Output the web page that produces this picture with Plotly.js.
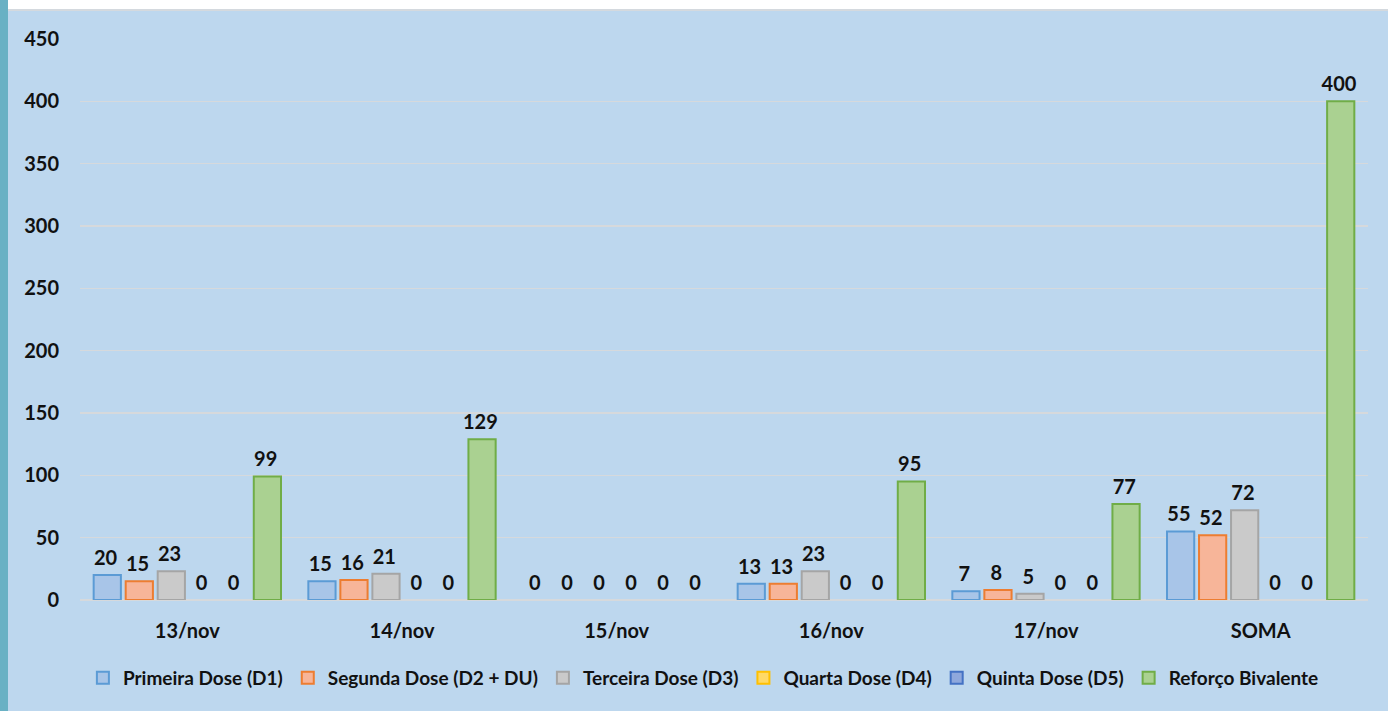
<!DOCTYPE html>
<html>
<head>
<meta charset="utf-8">
<script src="https://cdn.plot.ly/plotly-3.0.1.min.js"></script>
<style>
  html, body { margin:0; padding:0; width:1388px; height:711px; overflow:hidden; background:#BDD7EE; }
  #topstrip { position:absolute; left:0; top:0; width:1388px; height:9px; background:#ffffff; border-bottom:2px solid #d4d9de; }
  #leftstrip { position:absolute; left:0; top:0; width:8px; height:711px; background:#69B1C4; }
  #chart { position:absolute; left:0; top:0; width:1388px; height:711px; }
</style>
</head>
<body>
<div id="topstrip"></div>
<div id="leftstrip"></div>
<div id="chart"></div>
<script>
const categories = ["13/nov", "14/nov", "15/nov", "16/nov", "17/nov", "SOMA"];
const seriesNames = ["Primeira Dose (D1)", "Segunda Dose (D2 + DU)", "Terceira Dose (D3)", "Quarta Dose (D4)", "Quinta Dose (D5)", "Reforço Bivalente"];
const primeiraDose = [20, 15, 0, 13, 7, 55];
const segundaDose = [15, 16, 0, 13, 8, 52];
const terceiraDose = [23, 21, 0, 23, 5, 72];
const quartaDose = [0, 0, 0, 0, 0, 0];
const quintaDose = [0, 0, 0, 0, 0, 0];
const reforcoBivalente = [99, 129, 0, 95, 77, 400];
const yTicks = [0, 50, 100, 150, 200, 250, 300, 350, 400, 450];

const fills = ["#A8C5E8", "#F7B599", "#CACACA", "#FFD966", "#8FA8DC", "#AAD191"];
const lines = ["#5B9BD5", "#ED7D31", "#A5A5A5", "#FFC000", "#4472C4", "#70AD47"];
const values = [primeiraDose, segundaDose, terceiraDose, quartaDose, quintaDose, reforcoBivalente];

const FONT = "Lato, 'Open Sans', sans-serif";

const traces = [];
values.forEach((v, i) => {
  const allZero = v.every(n => n === 0);
  traces.push({
    type: "bar",
    name: seriesNames[i],
    offsetgroup: "g" + i,
    legendrank: i + 1,
    showlegend: !allZero,
    x: categories,
    y: v,
    text: v.map(String),
    texttemplate: "%{text}<sub>\u00a0</sub>",
    textposition: "outside",
    constraintext: "none",
    cliponaxis: false,
    textfont: { family: FONT, size: 20, color: "#111111", weight: 700 },
    marker: { color: fills[i], line: { color: lines[i], width: v.map(n => n === 0 ? 0 : 2) } },
    hoverinfo: "skip"
  });
  if (allZero) {
    // legend entry only (shares the same slot through offsetgroup)
    traces.push({
      type: "bar",
      name: seriesNames[i],
      offsetgroup: "g" + i,
      legendrank: i + 1,
      showlegend: true,
      x: [categories[0]],
      y: [null],
      marker: { color: fills[i], line: { color: lines[i], width: 2 } },
      hoverinfo: "skip"
    });
  }
});

const layout = {
  width: 1388, height: 711,
  margin: { l: 80, r: 20, t: 39, b: 111 },
  paper_bgcolor: "rgba(0,0,0,0)",
  plot_bgcolor: "rgba(0,0,0,0)",
  barmode: "group",
  bargap: 0.105,
  bargroupgap: 0.15,
  showlegend: true,
  legend: {
    orientation: "h",
    x: 0.484, xanchor: "center",
    y: -0.139, yanchor: "middle",
    font: { family: FONT, size: 19, color: "#111111", weight: 700 },
    itemwidth: 30,
    traceorder: "normal",
    bgcolor: "rgba(0,0,0,0)"
  },
  xaxis: {
    type: "category",
    tickfont: { family: FONT, size: 20, color: "#111111", weight: 700 },
    ticklabelstandoff: 17,
    showline: false, zeroline: false, showgrid: false, ticks: ""
  },
  yaxis: {
    range: [0, 450],
    tickvals: yTicks,
    ticktext: yTicks.map(String),
    tickfont: { family: FONT, size: 20, color: "#111111", weight: 700 },
    ticklabelstandoff: 20,
    gridcolor: "#D6D9DC", gridwidth: 1.5,
    zeroline: true, zerolinecolor: "#D6D9DC", zerolinewidth: 1.5,
    showline: false, ticks: ""
  }
};

Plotly.newPlot("chart", traces, layout, { staticPlot: true, displayModeBar: false });
</script>
</body>
</html>
